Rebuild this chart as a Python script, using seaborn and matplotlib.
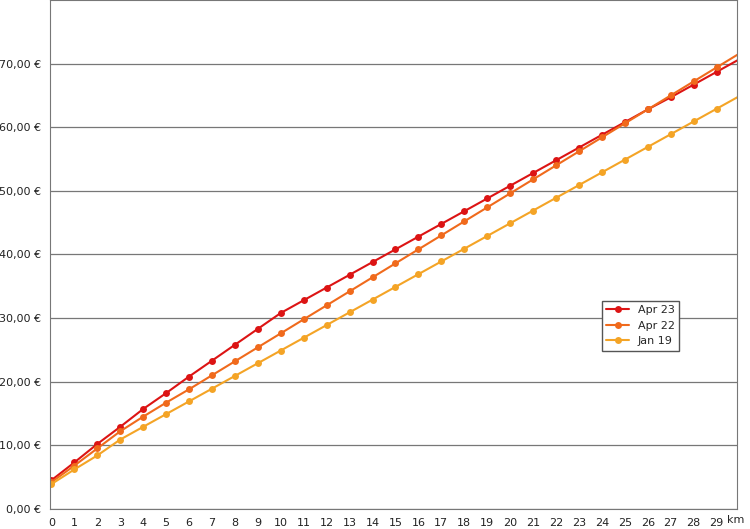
import numpy as np
import pandas as pd
import matplotlib
matplotlib.use("Agg")
import matplotlib.pyplot as plt
import seaborn as sns
from matplotlib.ticker import FuncFormatter

km = list(range(31))
apr23 = [4.5, 7.3, 10.2, 12.9, 15.7, 18.2, 20.8, 23.3, 25.8, 28.3, 30.8, 32.8, 34.8, 36.8, 38.8,
         40.8, 42.8, 44.8, 46.8, 48.8, 50.8, 52.8, 54.8, 56.8, 58.8, 60.8, 62.8, 64.7, 66.7, 68.7, 70.7]
apr22 = [4.2, 6.8, 9.5, 12.2, 14.5, 16.7, 18.8, 21.0, 23.2, 25.4, 27.6, 29.8, 32.0, 34.2, 36.4,
         38.6, 40.8, 43.0, 45.2, 47.4, 49.6, 51.8, 54.0, 56.2, 58.4, 60.6, 62.8, 65.0, 67.2, 69.4, 71.6]
jan19 = [3.9, 6.2, 8.4, 10.9, 12.9, 14.9, 16.9, 18.9, 20.9, 22.9, 24.9, 26.9, 28.9, 30.9, 32.9,
         34.9, 36.9, 38.9, 40.9, 42.9, 44.9, 46.9, 48.9, 50.9, 52.9, 54.9, 56.9, 58.9, 60.9, 62.9, 64.9]
series = ["Apr 23", "Apr 22", "Jan 19"]
colors = ["#dc1414", "#f06a1c", "#f4a426"]

df = pd.DataFrame({"km": km * 3,
                   "fare": apr23 + apr22 + jan19,
                   "tarif": [s for s in series for _ in km]})

sns.set_style("white")
fig, ax = plt.subplots(figsize=(7.5, 5.29), dpi=100)
fig.subplots_adjust(left=0.067, right=0.983, top=1.0, bottom=0.038)
sns.lineplot(data=df, x="km", y="fare", hue="tarif", palette=colors, marker="o",
             markersize=5, markeredgewidth=0, linewidth=1.5, ax=ax)

ax.set_xlim(-0.05, 29.9)
ax.set_ylim(0, 80)
ax.set_xticks(range(30))
ax.set_yticks(range(0, 80, 10))
ax.yaxis.set_major_formatter(FuncFormatter(lambda v, p: f"{v:.2f} €".replace(".", ",")))
ax.tick_params(labelsize=8, length=3, colors="#222222")
ax.grid(axis="y", color="#777777", linewidth=0.9)
for s in ax.spines.values():
    s.set_color("#777777")
ax.set_xlabel("")
ax.set_ylabel("")
ax.text(29.45, -0.012, "km", transform=ax.get_xaxis_transform(), fontsize=8, ha="left", va="top")
leg = ax.legend(loc="center left", bbox_to_anchor=(0.795, 0.36), fontsize=8, title=None,
                frameon=True, fancybox=False, edgecolor="#555555", framealpha=1)
plt.savefig("out.png")
